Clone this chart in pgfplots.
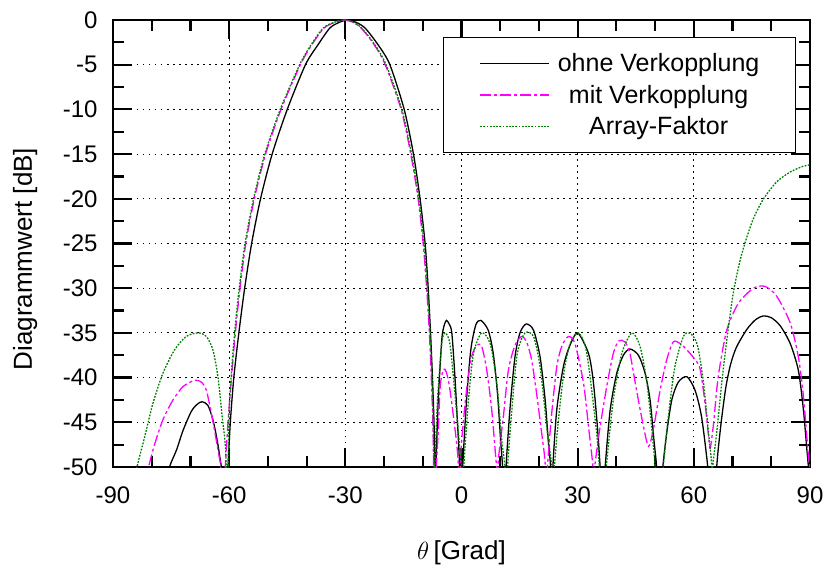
\documentclass[border=0pt]{standalone}
\usepackage{fontspec}
\setmainfont{Liberation Sans}
\usepackage{pgfplots}
\pgfplotsset{compat=1.18}
\definecolor{mgn}{RGB}{255,0,255}
\definecolor{grn}{RGB}{0,128,0}
\begin{document}
\begin{tikzpicture}
\begin{axis}[
 scale only axis, width=697pt, height=447pt,
 at={(0,0)}, anchor=south west,
 xmin=-90, xmax=90, ymin=-50, ymax=0,
 xtick={-90,-60,...,90}, ytick={-50,-45,...,0},
 minor xtick={-80,-70,-50,-40,-20,-10,10,20,40,50,70,80},
 minor ytick={-47.5,-42.5,-37.5,-32.5,-27.5,-22.5,-17.5,-12.5,-7.5,-2.5},
 tick align=inside, xtick pos=both, ytick pos=both,
 major tick length=19pt, minor tick length=11pt,
 every tick/.style={black, line width=2.2pt},
 axis line style={line width=2.7pt},
 grid=major, grid style={black, line width=0.9pt, dash pattern=on 1.5pt off 4.5pt},
 /pgf/number format/assume math mode=true,
 ticklabel style={font=\fontsize{24}{28}\selectfont},
 xticklabel style={yshift=-16pt},
 yticklabel style={xshift=-12pt},
 xlabel={$\theta$\,[Grad]},
 ylabel={Diagrammwert [dB]},
 xlabel style={at={(axis description cs:0.5,-0.192)}, anchor=center, font=\fontsize{26}{30}\selectfont},
 ylabel style={at={(axis description cs:-0.126,0.465)}, anchor=center, font=\fontsize{26}{30}\selectfont},
 legend style={at={(axis description cs:0.980,0.962)}, anchor=north east, draw=black, line width=1.3pt, fill=white,
   font=\fontsize{25}{30}\selectfont, inner xsep=36pt, inner ysep=16pt, row sep=12pt, column sep=8pt,
   nodes={inner sep=0pt}},
 legend cell align=center,
 legend image code/.code={\draw[#1] (0pt,0pt) -- (69pt,0pt);},
]
\addplot[black, line width=1.3pt, smooth, tension=0.45, forget plot] table {
-76.0 -52
-75.4 -50
-73.6 -48.1
-71.9 -45.9
-69.8 -43.8
-68.3 -43.0
-67.0 -42.7
-65.5 -43.1
-64.2 -44.7
-63.1 -47.0
-62.3 -49.2
-61.9 -50.5
-61.0 -56
-60.3 -50
-59.7 -45
-58.8 -40
-57.5 -35
-56.0 -30
-54.2 -25
-51.9 -20
-48.9 -15
-45.0 -10
-40.3 -5
-37.1 -2.8
-34.0 -0.9
-31.5 -0.25
-29.5 0
-27.3 -0.25
-24.9 -0.9
-21.5 -2.8
-18.5 -5
-14.8 -10
-12.4 -15
-10.7 -20
-9.4 -25
-8.6 -30
-8.0 -35
-7.5 -40
-7.1 -45
-6.85 -50
-6.75 -55
-6.6 -50
-6.0 -42.5
-5.1 -35.8
-4.5 -34.2
-3.9 -33.6
-3.2 -34.0
-2.5 -35.0
-1.7 -39.9
-0.8 -47.0
-0.5 -50
-0.2 -55
0.3 -50
1.3 -42.5
2.4 -36.9
3.7 -34.1
5.0 -33.6
6.9 -34.7
8.2 -37.3
9.3 -41.8
10.1 -47.0
10.6 -50
11.0 -55
11.5 -50
12.5 -43.6
13.8 -37.7
15.1 -35.0
16.7 -34.0
18.6 -34.7
20.3 -37.7
21.6 -42.5
22.4 -47.0
23.0 -50
23.3 -55
23.6 -50
24.6 -43.6
26.3 -38.8
27.9 -36.5
30.0 -35.0
32.8 -37.3
34.0 -40.3
35.1 -45.5
35.8 -50
36.4 -55
37.1 -50
38.4 -43.6
40.1 -39.5
41.8 -37.5
43.5 -36.8
45.7 -37.5
47.4 -39.5
48.7 -42.5
49.7 -47.0
50.4 -50
51.2 -55
52.0 -50
53.0 -46.2
54.3 -42.5
56.0 -40.5
58.2 -39.9
60.3 -41.4
62.0 -44.4
63.6 -50
64.8 -56
65.9 -50
66.3 -48
67.2 -44.5
68.3 -41.0
69.5 -38.5
71.0 -36.6
73.7 -34.6
76.0 -33.5
78.0 -33.1
80.0 -33.3
82.3 -34.2
84.9 -36.2
87.0 -39.2
88.3 -43.6
89.2 -48.1
89.6 -50
90.0 -52
};
\addplot[mgn, line width=1.3pt, dash pattern=on 11pt off 3pt on 3pt off 3pt, smooth, tension=0.45, forget plot] table {
-81.5 -52
-80.8 -50
-79.2 -47.4
-77.1 -44.7
-74.5 -42.5
-71.9 -41.0
-68.9 -40.3
-67.2 -40.5
-65.9 -41.4
-64.6 -44.0
-63.5 -46.6
-62.6 -48.8
-62.2 -50
-61.6 -55
-61.0 -50
-60.3 -45
-59.4 -40
-58.4 -35
-57.2 -30
-55.7 -25
-53.5 -20
-50.6 -15
-46.6 -10
-41.6 -5
-38.7 -2.8
-35.5 -0.9
-32.6 -0.25
-30.2 0
-28.1 -0.25
-25.9 -0.9
-22.5 -2.8
-19.7 -5
-15.6 -10
-13.1 -15
-11.2 -20
-9.9 -25
-9.0 -30
-8.3 -35
-7.8 -40
-7.4 -45
-7.2 -50
-7.0 -55
-6.5 -50
-6.0 -46
-5.5 -41.0
-4.7 -39.1
-4.0 -39.3
-3.3 -40.5
-2.5 -42.9
-1.24 -47.4
-0.8 -50
-0.5 -55
-0.3 -50
0.05 -47.0
1.3 -41.4
2.6 -37.7
3.9 -36.4
5.2 -36.5
6.5 -39.1
7.8 -43.6
8.9 -49.2
9.1 -50
9.3 -55
9.5 -50
9.6 -48.8
10.8 -44.4
12.1 -39.2
13.8 -36.4
15.5 -35.4
16.8 -36.0
18.1 -38.0
19.4 -41.8
20.7 -46.2
21.6 -49.6
21.9 -55
22.2 -50
23.3 -44.0
24.6 -38.8
25.9 -36.5
27.6 -35.4
29.3 -36.2
31.5 -40.6
32.8 -45.5
33.9 -49.8
34.1 -53
34.4 -50
35.8 -45.5
37.5 -41.0
39.2 -37.3
40.6 -35.9
42.2 -36.0
43.5 -37.3
45.2 -41.4
47.0 -45.5
48.3 -47.7
49.5 -45.9
51.3 -41.4
53.0 -38.0
54.7 -36.0
56.5 -36.2
58.2 -36.9
60.0 -37.8
61.6 -39.0
62.9 -42.9
64.0 -47.4
64.3 -47.8
65.1 -45.1
66.3 -39.9
68.5 -34.7
71.5 -31.7
75.4 -30.0
78.4 -29.8
81.4 -30.9
84.9 -33.9
87.0 -37.7
88.3 -42.1
89.6 -48.8
90.0 -50
};
\addplot[grn, line width=1.3pt, dash pattern=on 1.8pt off 1.4pt, smooth, tension=0.45, forget plot] table {
-84.5 -52
-83.8 -50
-81.8 -46.6
-79.7 -42.9
-77.1 -39.5
-74.1 -36.9
-71.1 -35.4
-68.0 -35.0
-65.9 -35.4
-64.2 -36.9
-62.9 -39.9
-61.8 -44.4
-60.9 -48.1
-60.4 -56
-60.1 -45
-59.5 -40
-58.6 -35
-57.4 -30
-55.9 -25
-53.7 -20
-50.8 -15
-46.8 -10
-41.8 -5
-38.9 -2.8
-35.7 -0.9
-32.8 -0.25
-30.3 0
-28.0 -0.25
-25.8 -0.9
-22.3 -2.8
-19.5 -5
-15.4 -10
-12.9 -15
-11.0 -20
-9.7 -25
-8.8 -30
-8.1 -35
-7.6 -40
-7.3 -45
-7.1 -50
-7.0 -55
-6.85 -50
-6.2 -42.5
-5.1 -36.2
-4.25 -35.0
-3.0 -36.2
-1.7 -41.8
-0.4 -48.1
0.1 -50
0.35 -55
0.6 -50
1.8 -42.5
3.1 -37.3
5.2 -35.0
7.4 -36.2
9.1 -40.6
10.4 -47.0
11.2 -50
11.6 -55
11.9 -50
13.0 -43.6
14.4 -37.3
16.4 -35.0
18.6 -35.4
20.3 -38.8
22.0 -45.5
23.3 -50
23.7 -55
24.0 -50
25.2 -44.0
26.6 -39.0
28.2 -36.0
30.2 -35.0
32.0 -36.5
33.2 -39.9
34.9 -46.2
35.6 -50
36.5 -56
37.4 -50
39.2 -42.5
41.4 -37.3
44.0 -35.0
46.1 -36.5
47.8 -40.3
49.1 -45.5
50.0 -50
51.0 -56
52.1 -50
53.4 -44.4
55.1 -38.8
57.3 -35.4
58.8 -35.0
60.2 -35.6
61.2 -36.9
62.5 -40.6
63.8 -46.2
64.6 -49.8
64.75 -55
64.9 -50
65.9 -46.2
67.2 -40.6
68.6 -35.5
70.2 -30.5
72.0 -26.8
73.9 -24.0
75.6 -22.0
78.0 -20.0
81.4 -18.1
84.9 -17.0
88.0 -16.4
90.0 -16.2
};
\addlegendimage{black, line width=1.3pt}
\addlegendentry{ohne Verkopplung}
\addlegendimage{mgn, line width=1.3pt, dash pattern=on 11pt off 3pt on 3pt off 3pt}
\addlegendentry{mit Verkopplung}
\addlegendimage{grn, line width=1.3pt, dash pattern=on 1.8pt off 1.4pt}
\addlegendentry{Array-Faktor}
\end{axis}
\pgfresetboundingbox
\path[use as bounding box] (-113pt,-103pt) rectangle (714pt,467pt);
\end{tikzpicture}
\end{document}
